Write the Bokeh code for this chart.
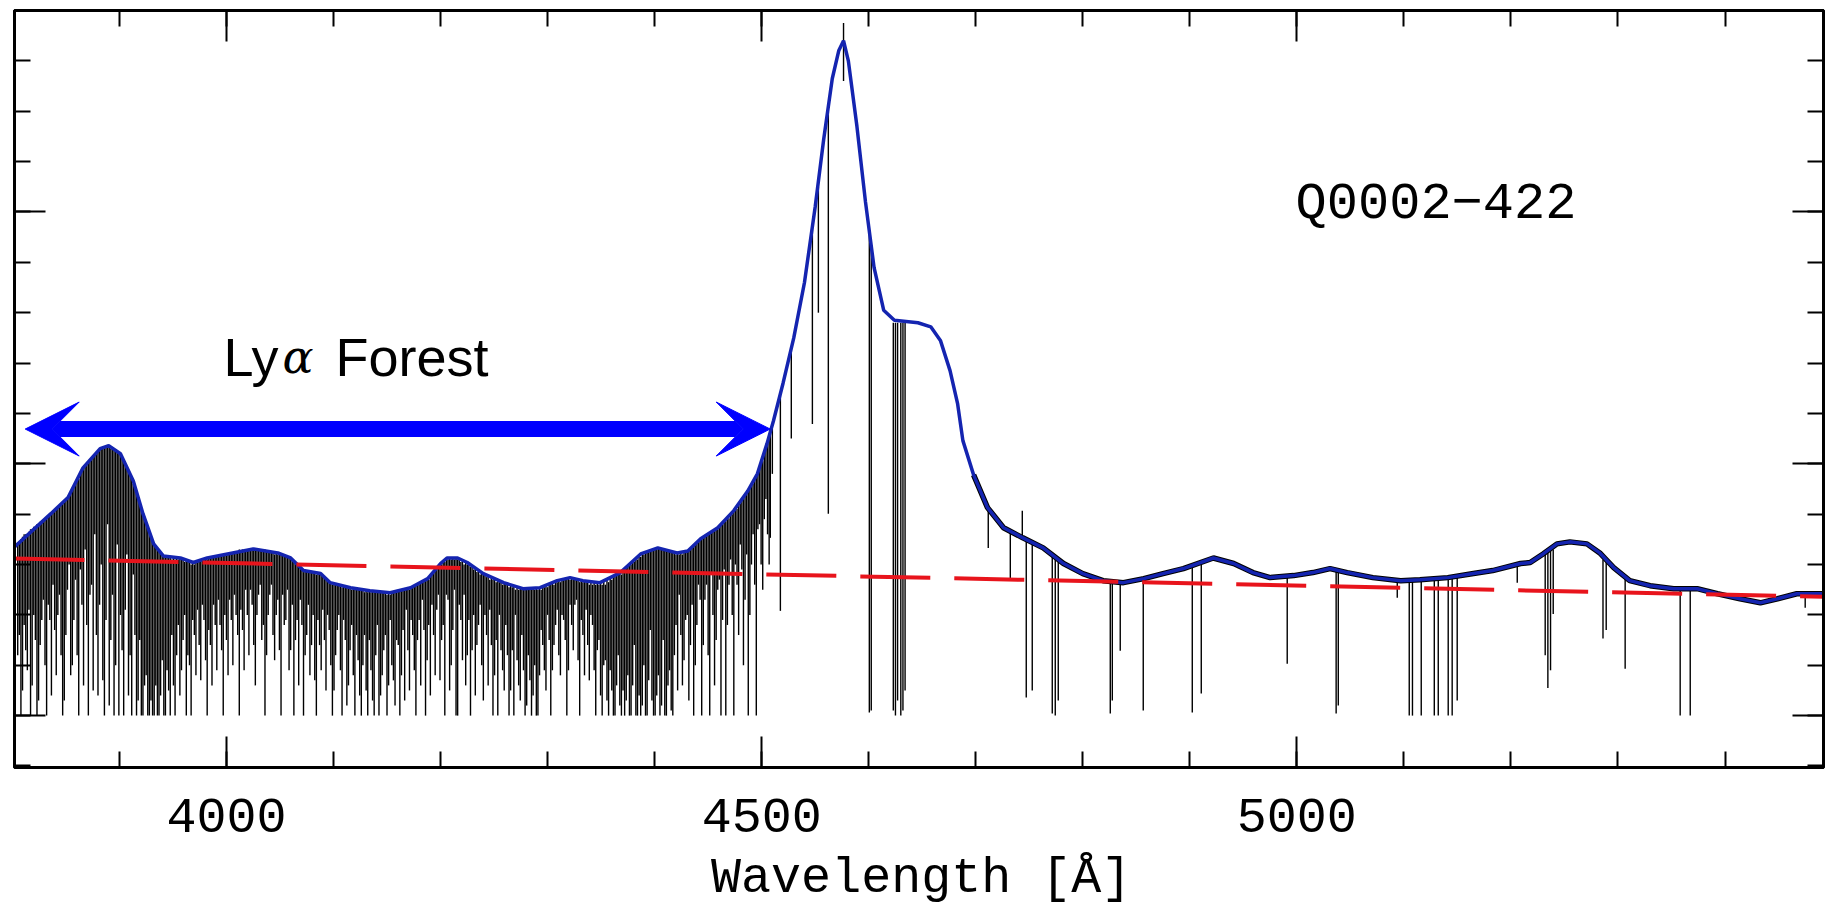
from bokeh.plotting import figure
from bokeh.layouts import column
from bokeh.models import (Range1d, LinearAxis, FixedTicker, Arrow, VeeHead, Label,
                          CustomJSTickFormatter)
from bokeh.embed import file_html
from bokeh.resources import INLINE

# ---------------- data ----------------
# emission-line continuum fit (blue)
cont_wl = [3802, 3836, 3852, 3866, 3882, 3890, 3901, 3913, 3922, 3932, 3941, 3957, 3969, 3982,
           4001, 4025, 4048, 4060, 4072, 4088, 4097, 4116, 4134, 4153, 4172, 4188, 4200, 4206,
           4216, 4225, 4240, 4259, 4277, 4293, 4309, 4321, 4333, 4349, 4368, 4387, 4403, 4421,
           4431, 4443, 4459, 4474, 4487, 4496, 4505, 4511, 4520, 4530, 4540, 4550, 4558, 4566,
           4572, 4576.5, 4581, 4589, 4597, 4605, 4614, 4624, 4646, 4658, 4667, 4676, 4683, 4688,
           4698, 4711, 4726, 4744, 4763, 4782, 4800, 4819, 4838, 4857, 4875, 4894, 4922, 4941,
           4959, 4975, 4997, 5015, 5031, 5047, 5071, 5097, 5115, 5141, 5165, 5183, 5209, 5218,
           5230, 5243, 5255, 5271, 5283, 5296, 5311, 5330, 5352, 5374, 5393, 5414, 5433, 5449,
           5467, 5492]
cont_flux = [3.35, 4.01, 4.33, 4.92, 5.30, 5.36, 5.20, 4.66, 4.01, 3.41, 3.17, 3.13, 3.04, 3.13,
             3.21, 3.31, 3.23, 3.13, 2.88, 2.82, 2.64, 2.54, 2.48, 2.44, 2.54, 2.72, 3.02, 3.13,
             3.13, 3.04, 2.82, 2.64, 2.52, 2.54, 2.68, 2.74, 2.68, 2.64, 2.84, 3.21, 3.33, 3.23,
             3.27, 3.51, 3.73, 4.07, 4.46, 4.80, 5.40, 5.85, 6.60, 7.50, 8.60, 10.10, 11.45, 12.65,
             13.20, 13.40, 13.00, 11.70, 10.20, 8.90, 8.05, 7.85, 7.80, 7.72, 7.45, 6.85, 6.20, 5.46,
             4.78, 4.13, 3.73, 3.53, 3.33, 3.02, 2.82, 2.68, 2.64, 2.72, 2.82, 2.92, 3.13, 3.02,
             2.84, 2.74, 2.78, 2.84, 2.92, 2.84, 2.74, 2.68, 2.70, 2.74, 2.82, 2.88, 3.02, 3.04,
             3.21, 3.41, 3.45, 3.41, 3.23, 2.94, 2.68, 2.58, 2.52, 2.52, 2.42, 2.32, 2.24, 2.32,
             2.42, 2.42]

# absorption lines of the observed spectrum: wavelength, upper and lower flux
lines_wl = [3805, 3808, 3811, 3814, 3817, 3820, 3823, 3826, 3829, 3832, 3835, 3838,
            3841, 3844, 3847, 3850, 3853, 3856, 3859, 3862, 3865, 3868, 3871, 3874, 3877, 3880,
            3883, 3886, 3889, 3892, 3895, 3898, 3901, 3904, 3907, 3910, 3913, 3916, 3919, 3922,
            3925, 3928, 3931, 3934, 3937, 3940, 3943, 3946, 3949, 3952,
            3955, 3958, 3961, 3964, 3967, 3970, 3973, 3976, 3979, 3982, 3985, 3988, 3991, 3994,
            3997, 4000, 4003, 4006, 4009, 4012, 4015, 4018, 4021, 4024, 4027, 4030, 4033, 4036,
            4039, 4042, 4045, 4048, 4051, 4054, 4057, 4060, 4063, 4066, 4069, 4072,
            4075, 4078, 4081, 4084, 4087, 4090, 4093, 4096, 4099, 4102, 4105, 4108, 4111, 4114,
            4117, 4120, 4123, 4126, 4129, 4132, 4135, 4138, 4141, 4144, 4147, 4150, 4153, 4156,
            4159, 4162, 4165, 4168, 4171, 4174, 4177, 4180, 4183, 4186, 4189,
            4192, 4195, 4198, 4201, 4204, 4207, 4210, 4213, 4216, 4219, 4222, 4225, 4228, 4231,
            4234, 4237, 4240, 4243, 4246, 4249, 4252, 4255, 4258, 4261,
            4264, 4267, 4270, 4273, 4276, 4279, 4282, 4285, 4288, 4291, 4294, 4297, 4300, 4303,
            4306, 4309, 4312, 4315, 4318, 4321, 4324, 4327, 4330, 4333, 4336, 4339, 4342, 4345,
            4348, 4351, 4354, 4357, 4360, 4363, 4366, 4369,
            4372, 4375, 4378, 4381, 4384, 4387, 4390, 4393, 4396, 4399, 4402, 4405, 4408, 4411,
            4414, 4417, 4420, 4423, 4426, 4429, 4432, 4435, 4438, 4441,
            4444, 4447, 4450, 4453, 4456, 4459, 4462, 4465, 4468, 4471, 4474, 4477, 4480, 4483,
            4486, 4489, 4492, 4495, 4498, 4501, 4504, 4507, 4510,
            4508.1, 4517.5, 4527.7, 4547.4, 4553.0, 4562.3, 4576.5, 4600.6, 4602.4,
            4623, 4625, 4627, 4630, 4632, 4634,
            4711.7, 4732.3, 4743.5, 4747.2, 4752.8, 4771.5, 4774.3, 4777.1, 4825.7, 4827.6, 4835.0,
            4856.5, 4902.3, 4910.7, 4991.0, 5036.7, 5038.7, 5093.8, 5105.0, 5108.0, 5116.2,
            5128.4, 5132.1, 5141.4, 5145.1, 5149.8, 5205.9, 5232.0, 5234.5, 5237.0, 5239.5,
            5286.0, 5289.0, 5306.7, 5358.1, 5367.5, 5474.9]
lines_top = [3.4, 3.5, 3.6, 3.6, 3.7, 3.75, 3.8, 3.85, 3.9, 3.95, 4.0, 4.05,
             4.1, 4.15, 4.2, 4.3, 4.4, 4.5, 4.6, 4.7, 4.85, 4.95, 5.05, 5.1, 5.2, 5.25,
             5.3, 5.35, 5.35, 5.3, 5.3, 5.25, 5.2, 5.05, 4.95, 4.8, 4.6, 4.4, 4.2, 4.0,
             3.8, 3.6, 3.45, 3.35, 3.25, 3.2, 3.15, 3.15, 3.1, 3.1,
             3.1, 3.1, 3.05, 3.05, 3.0, 3.0, 3.05, 3.1, 3.1, 3.1, 3.15, 3.15, 3.15, 3.2,
             3.2, 3.2, 3.2, 3.25, 3.25, 3.3, 3.3, 3.3, 3.3, 3.3, 3.3, 3.3, 3.3, 3.3,
             3.25, 3.25, 3.2, 3.2, 3.2, 3.15, 3.15, 3.1, 3.05, 3.0, 2.95, 2.85,
             2.85, 2.85, 2.85, 2.8, 2.8, 2.75, 2.7, 2.65, 2.6, 2.6, 2.6, 2.55, 2.55, 2.55,
             2.5, 2.5, 2.5, 2.5, 2.45, 2.45, 2.45, 2.45, 2.45, 2.45, 2.45, 2.4, 2.4, 2.45,
             2.45, 2.5, 2.5, 2.5, 2.5, 2.55, 2.6, 2.6, 2.65, 2.7, 2.7,
             2.8, 2.9, 2.95, 3.0, 3.05, 3.1, 3.1, 3.1, 3.1, 3.05, 3.0, 3.0, 2.95, 2.9,
             2.85, 2.8, 2.8, 2.75, 2.7, 2.7, 2.65, 2.65, 2.6, 2.6,
             2.55, 2.55, 2.5, 2.5, 2.5, 2.5, 2.5, 2.5, 2.5, 2.5, 2.5, 2.55, 2.55, 2.6,
             2.6, 2.65, 2.65, 2.7, 2.7, 2.7, 2.7, 2.7, 2.65, 2.65, 2.65, 2.6, 2.6, 2.6,
             2.6, 2.6, 2.6, 2.65, 2.7, 2.75, 2.8, 2.8,
             2.9, 2.95, 3.0, 3.05, 3.1, 3.15, 3.2, 3.25, 3.3, 3.3, 3.3, 3.3, 3.3, 3.3,
             3.25, 3.25, 3.2, 3.2, 3.2, 3.25, 3.3, 3.35, 3.4, 3.45,
             3.5, 3.55, 3.6, 3.65, 3.7, 3.7, 3.8, 3.85, 3.9, 4.0, 4.05, 4.1, 4.2, 4.3,
             4.4, 4.5, 4.6, 4.75, 4.9, 5.05, 5.3, 5.5, 5.7,
             5.6, 6.4, 7.3, 9.65, 10.5, 12.0, 13.75, 9.6, 9.3,
             7.8, 7.8, 7.8, 7.8, 7.8, 7.8,
             4.15, 3.7, 4.07, 3.5, 3.45, 3.2, 3.15, 3.1, 2.66, 2.66, 2.65,
             2.72, 2.97, 3.05, 2.78, 2.9, 2.9, 2.68, 2.68, 2.68, 2.7,
             2.72, 2.72, 2.74, 2.74, 2.76, 3.0, 3.2, 3.25, 3.3, 3.3,
             3.1, 3.05, 2.75, 2.52, 2.52, 2.42]
lines_bot = [1.2, 0.0, 1.8, 0.9, 0.0, 2.0, 0.0, 1.4, 2.3, 0.0, 1.9, 2.6,
             0.8, 2.4, 0.0, 1.6, 3.0, 1.0, 2.7, 0.0, 2.2, 3.3, 0.0, 2.6, 3.6, 0.4,
             3.0, 0.0, 3.8, 1.5, 0.0, 3.4, 2.0, 0.0, 3.2, 1.2, 2.8, 0.0, 1.5, 0.0,
             0.8, 0.0, 0.0, 0.6, 0.0, 1.1, 0.0, 0.5, 1.6, 0.0,
             1.8, 0.9, 2.0, 1.2, 0.0, 1.6, 2.1, 0.7, 1.9, 0.0, 1.4, 2.2, 0.9, 1.8,
             0.0, 1.5, 2.3, 1.0, 2.0, 0.0, 1.7, 2.5, 1.2, 2.2, 0.6, 2.4, 1.5, 0.0,
             2.0, 2.6, 1.1, 2.3, 0.0, 1.8, 2.5, 1.3, 0.0, 1.9, 2.3, 0.0,
             1.6, 0.8, 2.0, 0.0, 1.4, 2.1, 0.5, 1.7, 0.0, 1.2, 2.0, 0.0, 1.5, 0.6,
             1.8, 0.0, 1.1, 0.0, 1.6, 0.0, 0.9, 0.0, 1.8, 0.4, 1.3, 0.0, 1.9, 0.7,
             1.5, 0.0, 1.7, 2.1, 0.5, 1.6, 0.0, 1.9, 2.3, 0.0, 1.8,
             2.2, 0.8, 2.4, 1.5, 0.0, 2.3, 1.0, 2.5, 0.0, 1.9, 2.4, 1.2, 0.0, 2.0,
             1.4, 2.2, 0.3, 1.6, 2.1, 0.0, 1.5, 2.0, 0.9, 1.8,
             0.0, 1.3, 2.0, 0.6, 1.6, 0.0, 1.2, 0.0, 1.0, 0.0, 1.7, 0.9, 2.0, 0.0,
             1.4, 2.1, 0.8, 1.9, 0.0, 2.2, 1.3, 2.3, 0.0, 1.6, 2.1, 0.7, 1.8, 0.0,
             1.5, 0.0, 1.1, 0.0, 0.5, 0.0, 1.2, 0.0,
             0.0, 0.8, 0.0, 1.4, 0.0, 0.0, 1.0, 0.0, 1.7, 0.0, 0.4, 0.0, 1.5, 0.0,
             0.9, 0.0, 1.8, 2.4, 0.6, 1.9, 0.3, 2.2, 1.0, 2.6,
             0.0, 2.3, 1.2, 2.8, 0.6, 2.5, 0.0, 2.9, 1.8, 3.1, 0.0, 2.6, 3.4, 1.0,
             3.2, 2.0, 3.6, 0.0, 3.8, 2.5, 4.3, 3.0, 4.8,
             3.53, 2.08, 5.5, 5.79, 8.0, 4.01, 12.6, 0.06, 0.1,
             0.1, 0.0, 0.3, 0.0, 0.1, 0.5,
             3.33, 2.68, 3.53, 0.36, 0.5, 0.04, 0.0, 0.3, 0.04, 0.3, 1.29,
             0.1, 0.06, 0.44, 1.03, 0.04, 0.2, 2.34, 0.0, 0.0, 0.0,
             0.0, 0.0, 0.0, 0.0, 0.3, 2.64, 1.2, 0.55, 0.9, 2.02,
             1.53, 1.7, 0.93, 0.0, 0.0, 2.14]

# further Ly-alpha forest lines, between the ones above
forest_wl = [3806.5, 3809.5, 3812.5, 3815.5, 3818.5, 3821.5, 3824.5, 3827.5, 3830.5, 3833.5,
             3836.5, 3839.5,
             3842.5, 3845.5, 3848.5, 3851.5, 3854.5, 3857.5, 3860.5, 3863.5, 3866.5, 3869.5,
             3872.5, 3875.5, 3878.5, 3881.5, 3884.5, 3887.5, 3890.5, 3893.5, 3896.5, 3899.5,
             3902.5, 3905.5, 3908.5, 3911.5, 3914.5, 3917.5, 3920.5, 3923.5, 3926.5, 3929.5,
             3932.5, 3935.5, 3938.5, 3941.5, 3944.5, 3947.5, 3950.5, 3953.5,
             3956.5, 3959.5, 3962.5, 3965.5, 3968.5, 3971.5, 3974.5, 3977.5, 3980.5, 3983.5,
             3986.5, 3989.5, 3992.5, 3995.5, 3998.5, 4001.5, 4004.5, 4007.5, 4010.5, 4013.5,
             4016.5, 4019.5, 4022.5, 4025.5, 4028.5, 4031.5, 4034.5, 4037.5, 4040.5, 4043.5,
             4046.5, 4049.5, 4052.5, 4055.5, 4058.5, 4061.5, 4064.5, 4067.5, 4070.5, 4073.5,
             4076.5, 4079.5, 4082.5, 4085.5, 4088.5, 4091.5, 4094.5, 4097.5, 4100.5, 4103.5,
             4106.5, 4109.5, 4112.5, 4115.5, 4118.5, 4121.5, 4124.5, 4127.5, 4130.5, 4133.5,
             4136.5, 4139.5, 4142.5, 4145.5, 4148.5, 4151.5, 4154.5, 4157.5, 4160.5, 4163.5,
             4166.5, 4169.5, 4172.5, 4175.5, 4178.5, 4181.5, 4184.5, 4187.5,
             4190.5, 4193.5, 4196.5, 4199.5, 4202.5, 4205.5, 4208.5, 4211.5, 4214.5, 4217.5,
             4220.5, 4223.5, 4226.5, 4229.5, 4232.5, 4235.5, 4238.5, 4241.5, 4244.5, 4247.5,
             4250.5, 4253.5, 4256.5, 4259.5, 4262.5,
             4265.5, 4268.5, 4271.5, 4274.5, 4277.5, 4280.5, 4283.5, 4286.5, 4289.5, 4292.5,
             4295.5, 4298.5, 4301.5, 4304.5, 4307.5, 4310.5, 4313.5, 4316.5, 4319.5, 4322.5,
             4325.5, 4328.5, 4331.5, 4334.5, 4337.5, 4340.5, 4343.5, 4346.5, 4349.5, 4352.5,
             4355.5, 4358.5, 4361.5, 4364.5, 4367.5, 4370.5,
             4373.5, 4376.5, 4379.5, 4382.5, 4385.5, 4388.5, 4391.5, 4394.5, 4397.5, 4400.5,
             4403.5, 4406.5, 4409.5, 4412.5, 4415.5, 4418.5, 4421.5, 4424.5, 4427.5, 4430.5,
             4433.5, 4436.5, 4439.5, 4442.5,
             4445.5, 4448.5, 4451.5, 4454.5, 4457.5, 4460.5, 4463.5, 4466.5, 4469.5, 4472.5,
             4475.5, 4478.5, 4481.5, 4484.5, 4487.5, 4490.5, 4493.5, 4496.5, 4499.5, 4502.5,
             4505.5]
forest_top = [3.45, 3.55, 3.6, 3.65, 3.7, 3.75, 3.8, 3.85, 3.9, 3.95,
              4.0, 4.1,
              4.12, 4.18, 4.26, 4.33, 4.42, 4.55, 4.68, 4.8, 4.92, 5.0,
              5.08, 5.15, 5.22, 5.28, 5.32, 5.35, 5.36, 5.32, 5.28, 5.22,
              5.15, 5.0, 4.88, 4.72, 4.56, 4.3, 4.1, 3.95, 3.75, 3.55,
              3.4, 3.3, 3.22, 3.17, 3.16, 3.15, 3.14, 3.13,
              3.12, 3.1, 3.08, 3.06, 3.04, 3.05, 3.07, 3.1, 3.12, 3.13,
              3.15, 3.16, 3.17, 3.18, 3.2, 3.21, 3.22, 3.23, 3.25, 3.26,
              3.28, 3.29, 3.3, 3.31, 3.3, 3.29, 3.28, 3.27, 3.26, 3.25,
              3.24, 3.22, 3.2, 3.18, 3.15, 3.1, 3.02, 2.96, 2.9, 2.87,
              2.86, 2.85, 2.84, 2.83, 2.82, 2.76, 2.7, 2.64, 2.62, 2.6,
              2.58, 2.57, 2.55, 2.54, 2.53, 2.52, 2.51, 2.5, 2.49, 2.48,
              2.47, 2.47, 2.46, 2.46, 2.45, 2.44, 2.44, 2.46, 2.48, 2.5,
              2.52, 2.53, 2.54, 2.57, 2.6, 2.64, 2.68, 2.71,
              2.78, 2.86, 2.94, 3.0, 3.06, 3.12, 3.13, 3.13, 3.13, 3.12,
              3.08, 3.05, 3.0, 2.96, 2.92, 2.88, 2.85, 2.81, 2.78, 2.75,
              2.72, 2.69, 2.67, 2.64, 2.62,
              2.6, 2.58, 2.56, 2.54, 2.52, 2.52, 2.52, 2.53, 2.53, 2.54,
              2.56, 2.59, 2.62, 2.65, 2.68, 2.7, 2.72, 2.73, 2.74, 2.74,
              2.72, 2.7, 2.68, 2.68, 2.67, 2.66, 2.66, 2.65, 2.64, 2.66,
              2.7, 2.74, 2.77, 2.8, 2.83, 2.88,
              2.92, 2.98, 3.04, 3.1, 3.16, 3.2, 3.24, 3.28, 3.31, 3.33,
              3.33, 3.31, 3.29, 3.27, 3.25, 3.24, 3.23, 3.24, 3.25, 3.27,
              3.33, 3.4, 3.46, 3.5,
              3.55, 3.58, 3.62, 3.66, 3.7, 3.75, 3.8, 3.86, 3.92, 4.0,
              4.08, 4.17, 4.26, 4.36, 4.46, 4.57, 4.7, 4.82, 5.0, 5.2,
              5.4]
forest_bot = [1.6, 0.5, 1.3, 2.1, 0.6, 1.5, 0.3, 1.9, 1.0, 2.2,
              0.4, 1.7,
              2.0, 1.2, 0.3, 2.5, 0.8, 1.9, 1.2, 2.9, 0.6, 1.8,
              2.4, 0.5, 1.6, 2.2, 0.7, 1.9, 0.2, 2.4, 1.0, 0.0,
              1.3, 2.1, 0.4, 0.0, 1.6, 0.3, 0.0, 0.6, 0.0, 0.3,
              0.0, 0.0, 0.4, 0.0, 0.9, 0.0, 0.6, 1.2,
              0.4, 1.5, 0.0, 1.0, 1.9, 0.8, 1.4, 2.2, 1.1, 1.7,
              0.6, 1.8, 2.3, 1.3, 2.0, 0.8, 1.9, 2.4, 1.6, 2.1,
              0.9, 2.0, 2.5, 1.4, 2.0, 2.6, 1.8, 1.2, 2.4, 1.6,
              2.0, 1.3, 2.4, 1.9, 0.9, 2.2, 1.5, 0.6, 1.8, 1.2,
              2.2, 1.4, 0.7, 1.9, 0.9, 1.5, 2.0, 1.0, 0.5, 1.7,
              0.9, 1.9, 0.2, 1.3, 0.8, 1.6, 0.4, 1.0, 0.5, 1.5,
              0.3, 1.2, 0.0, 0.8, 1.6, 0.6, 1.0, 0.2, 1.4, 0.8,
              0.3, 1.3, 1.9, 0.9, 1.5, 0.6, 1.7, 1.1,
              0.4, 1.6, 2.1, 0.7, 1.8, 2.4, 0.5, 1.7, 0.0, 2.2,
              1.1, 0.6, 1.9, 1.3, 0.4, 1.8, 1.0, 2.0, 0.6, 1.4,
              0.8, 0.0, 1.3, 0.5, 1.2,
              0.5, 0.0, 1.1, 0.3, 0.9, 0.2, 0.7, 0.4, 0.0, 0.8,
              1.4, 0.5, 1.5, 0.9, 1.8, 1.2, 2.0, 1.5, 0.9, 1.8,
              2.2, 1.1, 1.9, 0.8, 1.4, 2.0, 0.9, 1.3, 0.4, 1.0,
              0.3, 0.9, 0.0, 0.6, 0.2, 0.5,
              0.3, 0.0, 0.6, 0.0, 0.4, 0.2, 0.0, 0.7, 0.3, 0.0,
              0.8, 0.2, 0.0, 0.6, 0.1, 1.2, 0.5, 1.6, 1.1, 2.0,
              1.4, 0.0, 1.8, 2.3,
              1.4, 2.6, 0.0, 2.0, 1.5, 2.7, 1.9, 0.0, 2.6, 2.0,
              3.0, 1.6, 2.9, 2.3, 0.0, 3.0, 2.6, 3.7, 3.0, 3.9,
              3.6]

# dashed power-law continuum
red_wl = [3802, 5492]
red_flux = [3.12, 2.36]

# ticks
x_major = [4000, 4500, 5000]
x_minor = [3800, 3900, 4000, 4100, 4200, 4300, 4400, 4500, 4600, 4700, 4800, 4900,
           5000, 5100, 5200, 5300, 5400]
y_major = [0, 5, 10]
y_minor = [-1, 0, 1, 2, 3, 4, 5, 6, 7, 8, 9, 10, 11, 12, 13, 14]
x_labels = ["4000", "4500", "5000"]

# ---------------- main figure ----------------
p = figure(width=1833, height=770, output_backend="svg", toolbar_location=None,
           x_range=Range1d(3802, 5492), y_range=Range1d(-1.03, 14.0),
           x_axis_location=None, y_axis_location=None,
           min_border_left=14, min_border_right=10, min_border_top=10, min_border_bottom=3)
p.grid.visible = False
p.background_fill_color = "white"
p.border_fill_color = "white"
p.outline_line_color = "black"
p.outline_line_width = 3


def style_axis(ax):
    ax.axis_line_width = 3
    ax.axis_line_color = "black"
    ax.major_tick_in = 31
    ax.major_tick_out = 0
    ax.minor_tick_in = 16
    ax.minor_tick_out = 0
    ax.major_tick_line_width = 2
    ax.minor_tick_line_width = 2
    ax.major_tick_line_color = "black"
    ax.minor_tick_line_color = "black"
    ax.formatter = CustomJSTickFormatter(code="return ''")
    ax.major_label_text_font_size = "1px"
    ax.major_label_standoff = 0


xt = FixedTicker(ticks=x_major, minor_ticks=x_minor)
yt = FixedTicker(ticks=y_major, minor_ticks=y_minor)

for place, tk in (("below", xt), ("above", xt), ("left", yt), ("right", yt)):
    ax = LinearAxis(ticker=tk)
    style_axis(ax)
    p.add_layout(ax, place)

seg_wl = lines_wl + forest_wl
seg_top = lines_top + forest_top
seg_bot = lines_bot + forest_bot
noise_wl = [w for w in cont_wl if w >= 4698]
noise_flux = [f for w, f in zip(cont_wl, cont_flux) if w >= 4698]

# observed spectrum: unabsorbed (noisy) part and absorption lines
p.line(noise_wl, noise_flux, line_color="black", line_width=5.5)
p.segment(x0=seg_wl, y0=seg_top, x1=seg_wl, y1=seg_bot, line_color="black", line_width=1.4)
# continuum fit
p.line(cont_wl, cont_flux, line_color="#1424b0", line_width=3.5)
# power law
p.line(red_wl, red_flux, line_color="#e8141c", line_width=4, line_dash="70 24")

# Ly-alpha forest arrow
p.add_layout(Arrow(x_start=3812, y_start=5.69, x_end=4508, y_end=5.69,
                   line_color="#0000ff", line_width=16,
                   start=VeeHead(size=54, fill_color="#0000ff", line_color="#0000ff", line_width=1),
                   end=VeeHead(size=54, fill_color="#0000ff", line_color="#0000ff", line_width=1)))

p.add_layout(Label(x=3997.3, y=7.13, text="Ly", text_font="Liberation Sans",
                   text_font_size="54px", text_color="black", text_baseline="alphabetic"))
p.add_layout(Label(x=4052.4, y=7.13, text="α", text_font="DejaVu Serif", text_font_style="italic",
                   text_font_size="46px", text_color="black", text_baseline="alphabetic"))
p.add_layout(Label(x=4101.9, y=7.13, text="Forest", text_font="Liberation Sans",
                   text_font_size="54px", text_color="black", text_baseline="alphabetic"))
p.add_layout(Label(x=4998.8, y=10.15, text="Q0002\u2212422", text_font="Liberation Mono",
                   text_font_size="52px", text_color="black", text_baseline="alphabetic"))

# ---------------- strip below: x tick labels and axis title ----------------
p2 = figure(width=1833, height=144, output_backend="svg", toolbar_location=None,
            x_range=Range1d(3802, 5492), y_range=Range1d(0, 144),
            x_axis_location=None, y_axis_location=None,
            min_border_left=14, min_border_right=10, min_border_top=0, min_border_bottom=0)
p2.grid.visible = False
p2.outline_line_color = None
p2.background_fill_color = "white"
p2.border_fill_color = "white"
for tick, lab in zip(x_major, x_labels):
    p2.add_layout(Label(x=tick, y=99, text=lab, text_font="Liberation Mono",
                        text_font_size="50px", text_color="black", text_baseline="alphabetic",
                        text_align="center"))
p2.add_layout(Label(x=4649, y=36, text="Wavelength [Å]", text_font="Liberation Mono",
                    text_font_size="50px", text_color="black", text_baseline="alphabetic",
                    text_align="center"))

open("out.html", "w").write(file_html(column(p, p2, spacing=0), INLINE))
